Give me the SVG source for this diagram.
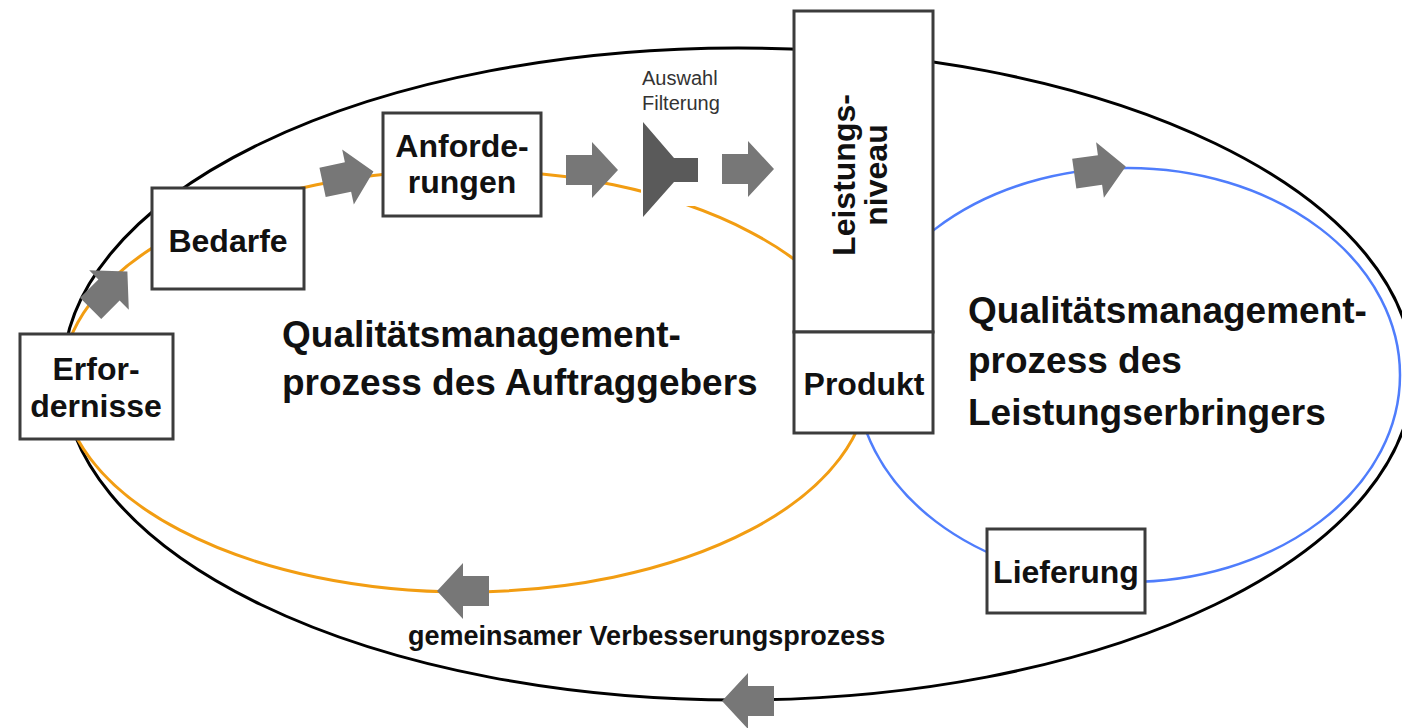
<svg xmlns="http://www.w3.org/2000/svg" width="1402" height="728" viewBox="0 0 1402 728">
  <style>
    .box { fill: #ffffff; stroke: #3c3c3c; stroke-width: 3; }
    .lbl { font-family: "Liberation Sans", Arial, sans-serif; font-weight: bold; font-size: 32px; fill: #111111; text-anchor: middle; }
    .big { font-family: "Liberation Sans", Arial, sans-serif; font-weight: bold; font-size: 37px; fill: #111111; }
    .small { font-family: "Liberation Sans", Arial, sans-serif; font-size: 20px; fill: #333333; }
    .arrow { fill: #777777; }
    .loop-black { fill: none; stroke: #000000; stroke-width: 3; }
    .loop-orange { fill: none; stroke: #f29d12; stroke-width: 3; }
    .loop-blue { fill: none; stroke: #4f7dfc; stroke-width: 2.5; }
  </style>
  <defs>
    <path id="arr" d="M-26,-15 H0 V-28 L26,0 L0,28 V15 H-26 Z"/>
  </defs>
  <rect x="0" y="0" width="1402" height="728" fill="#ffffff"/>

  <g id="connectors">
    <ellipse class="loop-black" cx="738" cy="374" rx="675" ry="326"/>
    <ellipse class="loop-orange" cx="465" cy="381" rx="403" ry="211"/>
    <ellipse class="loop-blue" cx="1128" cy="375" rx="272" ry="207"/>
    <rect x="641" y="118" width="57" height="88" fill="#ffffff"/>
    <use href="#arr" class="arrow" transform="translate(109,290) rotate(-45)"/>
    <use href="#arr" class="arrow" transform="translate(348,177) rotate(-12)"/>
    <use href="#arr" class="arrow" transform="translate(592,170)"/>
    <use href="#arr" class="arrow" transform="translate(748,169)"/>
    <use href="#arr" class="arrow" transform="translate(1100,170) rotate(-8)"/>
    <use href="#arr" class="arrow" transform="translate(463,591) rotate(180)"/>
    <use href="#arr" class="arrow" transform="translate(748,701) rotate(180)"/>
  </g>

  <g id="filter">
    <polygon points="643,122 674,158 698,158 698,182 674,182 643,217" fill="#5a5a5a"/>
    <text class="small" x="642" y="85">Auswahl</text>
    <text class="small" x="642" y="110">Filterung</text>
  </g>

  <g id="erfordernisse">
    <rect class="box" x="20" y="334" width="153" height="105"/>
    <text class="lbl" x="96" y="380">Erfor-</text>
    <text class="lbl" x="96" y="417">dernisse</text>
  </g>

  <g id="bedarfe">
    <rect class="box" x="152" y="188" width="152" height="101"/>
    <text class="lbl" x="228" y="252">Bedarfe</text>
  </g>

  <g id="anforderungen">
    <rect class="box" x="383" y="113" width="158" height="103"/>
    <text class="lbl" x="462" y="157">Anforde-</text>
    <text class="lbl" x="462" y="193">rungen</text>
  </g>

  <g id="leistungsniveau">
    <rect class="box" x="794" y="11" width="139" height="321"/>
    <g transform="translate(855,175) rotate(-90)">
      <text class="lbl" x="0" y="0">Leistungs-</text>
      <text class="lbl" x="0" y="32">niveau</text>
    </g>
  </g>

  <g id="produkt">
    <rect class="box" x="794" y="332" width="139" height="101"/>
    <text class="lbl" x="864" y="395">Produkt</text>
  </g>

  <g id="lieferung">
    <rect class="box" x="987" y="529" width="158" height="84"/>
    <text class="lbl" x="1066" y="583">Lieferung</text>
  </g>

  <g id="label-auftraggeber">
    <text class="big" x="282" y="347">Qualitätsmanagement-</text>
    <text class="big" x="282" y="395">prozess des Auftraggebers</text>
  </g>

  <g id="label-leistungserbringer">
    <text class="big" x="968" y="323">Qualitätsmanagement-</text>
    <text class="big" x="968" y="373">prozess des</text>
    <text class="big" x="968" y="425">Leistungserbringers</text>
  </g>

  <g id="label-verbesserung">
    <text class="big" x="408" y="645" style="font-size:27px">gemeinsamer Verbesserungsprozess</text>
  </g>
</svg>
